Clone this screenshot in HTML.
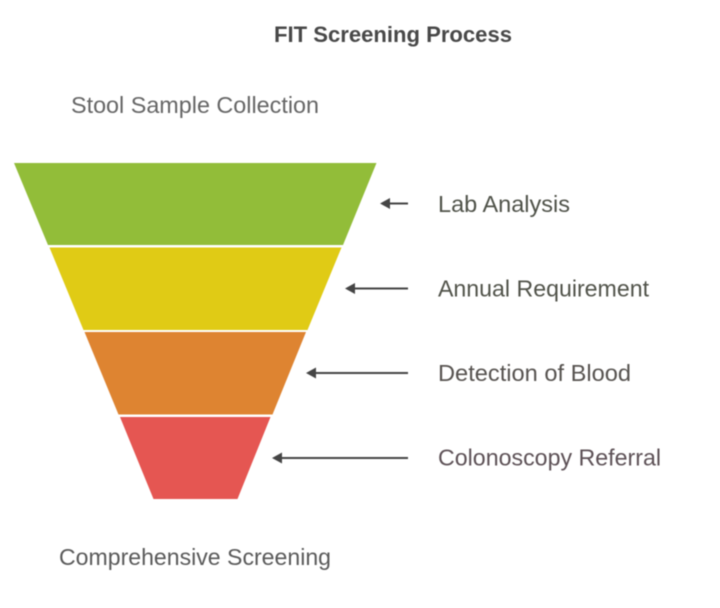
<!DOCTYPE html>
<html>
<head>
<meta charset="utf-8">
<style>
html,body{margin:0;padding:0;background:#fff;width:720px;height:608px;overflow:hidden}
svg{display:block;filter:blur(0.45px)}
text{font-family:"Liberation Sans",sans-serif;font-size:23px}
</style>
</head>
<body>
<svg width="720" height="608" viewBox="0 0 720 608" xmlns="http://www.w3.org/2000/svg">
<rect width="720" height="608" fill="#fff"/>
<polygon points="14,163 376.5,163 343,245 48,245" fill="#92bd39"/>
<polygon points="49.5,247.5 341.5,247.5 307.5,330 83.5,330" fill="#e0cb15"/>
<polygon points="84.5,332 306,332 272.5,414.5 118.5,414.5" fill="#de8431"/>
<polygon points="120,417 270.5,417 237.5,499 153.5,499" fill="#e55652"/>

<g stroke="#454545" stroke-width="2" fill="none">
<line x1="388" y1="203.5" x2="408" y2="203.5"/>
<line x1="353" y1="288.5" x2="408" y2="288.5"/>
<line x1="314" y1="373" x2="408" y2="373"/>
<line x1="280" y1="458" x2="408" y2="458"/>
</g>
<g fill="#454545">
<polygon points="380,203.5 390,198 390,209"/>
<polygon points="345,288.5 355,283 355,294"/>
<polygon points="306,373 316,367.5 316,378.5"/>
<polygon points="272,458 282,452.5 282,463.5"/>
</g>

<text x="274" y="42" font-size="22" style="font-size:22px" font-weight="700" fill="#484848" textLength="238" lengthAdjust="spacingAndGlyphs">FIT Screening Process</text>
<text x="71" y="113" fill="#666666" textLength="248" lengthAdjust="spacingAndGlyphs">Stool Sample Collection</text>
<text x="438" y="212" fill="#4f5249" textLength="132" lengthAdjust="spacingAndGlyphs">Lab Analysis</text>
<text x="438" y="296.5" fill="#51534a" textLength="211" lengthAdjust="spacingAndGlyphs">Annual Requirement</text>
<text x="438" y="381" fill="#575350" textLength="193" lengthAdjust="spacingAndGlyphs">Detection of Blood</text>
<text x="438" y="465.5" fill="#5d5156" textLength="223" lengthAdjust="spacingAndGlyphs">Colonoscopy Referral</text>
<text x="59" y="565" fill="#5a5a5a" textLength="272" lengthAdjust="spacingAndGlyphs">Comprehensive Screening</text>
</svg>
</body>
</html>
